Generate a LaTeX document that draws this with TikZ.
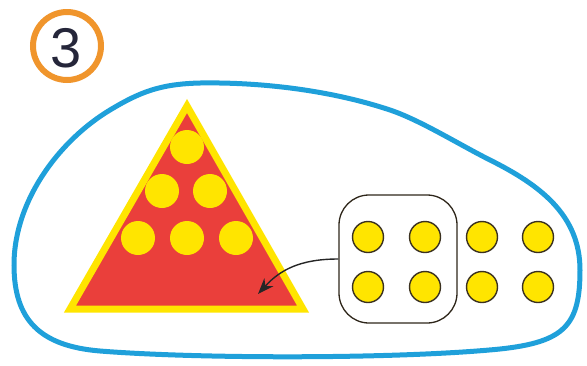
\documentclass[tikz,border=0pt]{standalone}
\usepackage{fontspec}
\setmainfont{Liberation Sans}
\usetikzlibrary{arrows.meta}
\definecolor{blobblue}{HTML}{1FA0DA}
\definecolor{ringorange}{HTML}{F0952C}
\definecolor{digitnavy}{HTML}{25263A}
\definecolor{trired}{HTML}{EA3F3B}
\definecolor{dotyellow}{HTML}{FFE500}
\definecolor{dotedge}{HTML}{3A3020}
\tikzset{
  tridot/.style={circle, fill=dotyellow, inner sep=0pt, minimum size=34pt},
  rdot/.style={circle, fill=dotyellow, draw=dotedge, line width=1.4pt, inner sep=0pt, minimum size=31pt},
  groupbox/.style={draw=dotedge!80!black, line width=1.3pt, rounded corners=30pt, minimum width=118pt, minimum height=128pt, inner sep=0pt},
  blob/.style={draw=blobblue, line width=5pt},
  pointer/.style={draw=black!85, line width=1.4pt, -{Stealth[length=16pt, width=12pt]}}
}
\begin{document}
\begin{tikzpicture}[x=1pt, y=-1pt]
\useasboundingbox (0,0) rectangle (587,365);
% number badge
\node[circle, draw=ringorange, line width=6pt, minimum size=68pt, inner sep=0pt] (badge) at (67,46) {};
\node[text=digitnavy, font=\fontsize{56}{56}\selectfont] (num) at (66,48) {3};
% outer blob
\draw[blob] (14,265) .. controls (14,200) and (60,140) .. (110,110)
  .. controls (140,92) and (160,84) .. (200,83)
  .. controls (260,82) and (330,90) .. (390,110)
  .. controls (420,120) and (460,145) .. (490,160)
  .. controls (540,185) and (580,215) .. (580,270)
  .. controls (580,325) and (565,342) .. (500,349)
  .. controls (400,359) and (200,359) .. (100,351)
  .. controls (40,346) and (14,320) .. (14,265) -- cycle;
% triangle
\draw[draw=dotyellow, fill=trired, line width=7pt, line join=miter] (187,106) -- (303,309) -- (70,309) -- cycle;
\node[tridot] (t1) at (187,147) {};
\node[tridot] (t2) at (162,191) {};
\node[tridot] (t3) at (210,191) {};
\node[tridot] (t4) at (138,238) {};
\node[tridot] (t5) at (187,238) {};
\node[tridot] (t6) at (236,238) {};
% right dots
\node[rdot] (r1) at (368,237) {};
\node[rdot] (r2) at (425,237) {};
\node[rdot] (r3) at (482,237) {};
\node[rdot] (r4) at (538,237) {};
\node[rdot] (r5) at (368,287) {};
\node[rdot] (r6) at (425,287) {};
\node[rdot] (r7) at (482,287) {};
\node[rdot] (r8) at (538,287) {};
% group box
\node[groupbox] (box) at (398,259) {};
\coordinate (tip) at (258,294);
\draw[pointer] (box.west) .. controls (300,259) and (280,270) .. (tip);
\end{tikzpicture}
\end{document}
